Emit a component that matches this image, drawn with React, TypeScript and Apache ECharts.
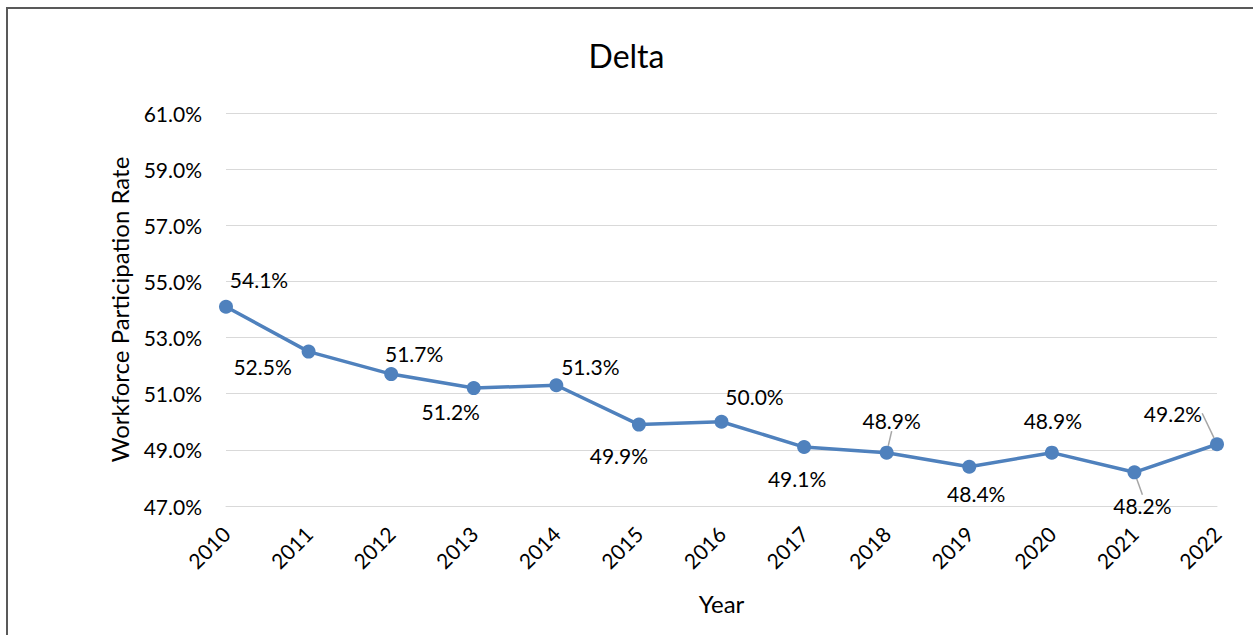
import React, { useEffect, useRef } from "react";
import * as echarts from "echarts";

const years = ["2010", "2011", "2012", "2013", "2014", "2015", "2016", "2017", "2018", "2019", "2020", "2021", "2022"];
const rates = [54.1, 52.5, 51.7, 51.2, 51.3, 49.9, 50.0, 49.1, 48.9, 48.4, 48.9, 48.2, 49.2];
const labelOffsets = [
  [33, -27], [-46, 15], [23, -21], [-23, 23], [34, -19], [-20, 31], [33, -25],
  [-7, 31], [5, -32], [7, 27], [1, -32], [8, 33], [-44, -31],
];
const leaderIdx = [8, 11, 12];

const FONT = "Lato";

export default function App() {
  const ref = useRef<HTMLDivElement>(null);
  useEffect(() => {
    const chart = echarts.init(ref.current!, null, { renderer: "svg" });
    chart.setOption({
      animation: false,
      backgroundColor: "#fff",
      textStyle: { fontFamily: FONT },
      title: {
        text: "Delta",
        left: "center",
        top: 34,
        textStyle: { fontFamily: FONT, fontSize: 32, fontWeight: "normal", color: "#000" },
      },
      graphic: [
        {
          type: "rect",
          shape: { x: 7, y: 8, width: 1300, height: 700 },
          style: { fill: "none", stroke: "#595959", lineWidth: 2 },
          silent: true,
        },
      ],
      grid: { left: 226, right: 36, top: 113, bottom: 129 },
      xAxis: {
        type: "category",
        data: years,
        boundaryGap: false,
        name: "Year",
        nameLocation: "middle",
        nameGap: 85,
        nameTextStyle: { fontFamily: FONT, fontSize: 24, color: "#000" },
        axisLine: { lineStyle: { color: "#d9d9d9" } },
        axisTick: { show: false },
        axisLabel: { rotate: 45, margin: 24, fontFamily: FONT, fontSize: 21, color: "#000" },
      },
      yAxis: {
        type: "value",
        min: 47,
        max: 61,
        interval: 2,
        name: "Workforce Participation Rate",
        nameLocation: "middle",
        nameGap: 95,
        nameTextStyle: { fontFamily: FONT, fontSize: 24, color: "#000" },
        axisLine: { show: false },
        axisTick: { show: false },
        splitLine: { lineStyle: { color: "#d9d9d9", width: 1 } },
        axisLabel: {
          margin: 24,
          fontFamily: FONT,
          fontSize: 21,
          color: "#000",
          formatter: (v: number) => v.toFixed(1) + "%",
        },
      },
      series: [
        {
          type: "line",
          data: rates.map((v, i) => ({
            value: v,
            labelLine: leaderIdx.includes(i)
              ? { show: true, lineStyle: { color: "#a6a6a6", width: 1.5 } }
              : { show: false },
          })),
          symbol: "circle",
          symbolSize: 14,
          itemStyle: { color: "#4f81bd" },
          lineStyle: { color: "#4f81bd", width: 3.5 },
          label: {
            show: true,
            position: "inside",
            fontFamily: FONT,
            fontSize: 21,
            color: "#000",
            formatter: (p: any) => p.value.toFixed(1) + "%",
          },
          labelLayout: (p: any) => ({
            dx: labelOffsets[p.dataIndex][0],
            dy: labelOffsets[p.dataIndex][1],
          }),
        },
      ],
    });
    return () => chart.dispose();
  }, []);
  return <div ref={ref} style={{ position: "fixed", left: 0, top: 0, width: 1253, height: 635 }} />;
}
